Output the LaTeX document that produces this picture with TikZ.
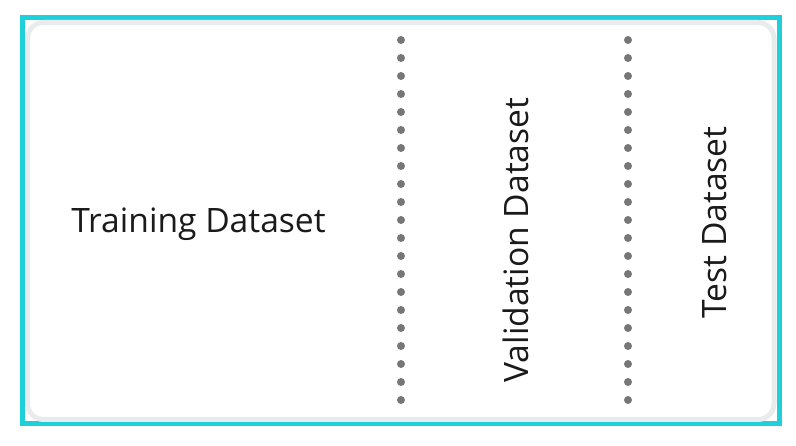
\documentclass[tikz,border=0pt]{standalone}
\usepackage{fontspec}
\setmainfont{Open Sans}
\usepackage{tikz}
\usepackage{xcolor}
\usetikzlibrary{calc}

\definecolor{frameCyan}{HTML}{1FD0DC}
\definecolor{panelGray}{HTML}{E9ECEC}
\definecolor{dotGray}{HTML}{777777}
\definecolor{labelInk}{HTML}{1A1A1A}

\tikzset{
  splitlabel/.style={text=labelInk, font=\fontsize{33.6}{38}\selectfont, inner sep=0pt},
  splitdots/.style={draw=dotGray, line width=8pt, line cap=round, dash pattern=on 0pt off 18pt}
}

\begin{document}
\begin{tikzpicture}[x=1pt,y=1pt]
  \useasboundingbox (0,0) rectangle (796,446);

  % Outer frame and panel
  \draw[frameCyan, line width=5pt] (22.5,22) rectangle (779.5,428.5);
  \draw[panelGray, line width=5pt, rounded corners=16pt] (27.5,26.5) rectangle (774,423.5);

  % Split lines
  \coordinate (trainTop) at (401,406);
  \coordinate (trainBot) at (401,45);
  \coordinate (valTop) at (628,406);
  \coordinate (valBot) at (628,45);
  \draw[splitdots] (trainTop) -- (trainBot);
  \draw[splitdots] (valTop) -- (valBot);

  % Labels
  \node[splitlabel] (train) at (198.5,222) {Training Dataset};
  \node[splitlabel, rotate=90] (val) at (516,206) {Validation Dataset};
  \node[splitlabel, rotate=90] (test) at (715,223.5) {Test Dataset};
\end{tikzpicture}
\end{document}
